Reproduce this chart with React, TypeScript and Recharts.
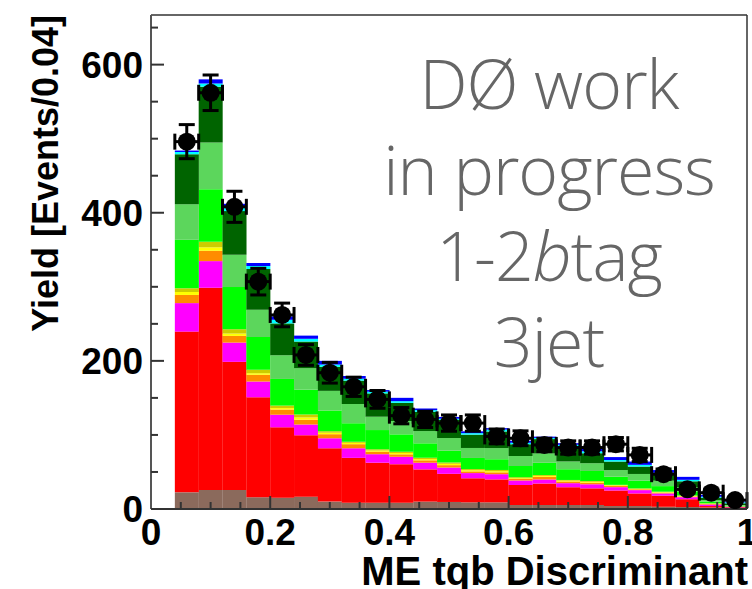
import { Bar, ComposedChart, ErrorBar, ReferenceLine, Scatter, XAxis, YAxis } from "recharts";

// bin centres of the ME tqb discriminant (bin width 0.04)
const BIN_CENTERS = [
  0.06, 0.1, 0.14, 0.18, 0.22, 0.26, 0.3, 0.34, 0.38, 0.42, 0.46, 0.5,
  0.54, 0.58, 0.62, 0.66, 0.7, 0.74, 0.78, 0.82, 0.86, 0.9, 0.94, 0.98,
];
const HALF_BIN = 0.02;

// stacked backgrounds, bottom to top
const brown = [22.5, 25.7, 25.7, 15.8, 15.3, 16.6, 10, 8.5, 8.5, 8.5, 10, 9.5, 9, 9, 5.4, 5.4, 5.4, 5.4, 4, 4, 3, 2.7, 2, 1];
const red = [217, 273, 173, 135, 95, 83, 72, 60.5, 54, 52, 43.5, 38, 32.5, 31, 27, 29, 24, 22.5, 21, 17, 15, 10.5, 2, 1.3];
const magenta = [38.5, 36, 26, 21.5, 17, 14.5, 13.5, 13, 11.5, 10, 9, 8.5, 7, 7, 6, 5.5, 5.5, 5.5, 4.5, 4.5, 3, 2.8, 2, 0.7];
const orange = [11, 14, 9, 9, 7, 6.5, 5.5, 5.5, 3.5, 3.3, 3.2, 3.2, 2.3, 2.5, 2, 3.5, 2.3, 2.1, 1.7, 1.1, 1, 0.9, 0.8, 0.2];
const yellow = [4, 4.6, 3.2, 2, 2, 3, 2, 1.8, 1.4, 1.8, 1.7, 1.8, 1.5, 1.5, 1.2, 1.3, 1, 1.2, 0.8, 0.6, 0.7, 0.6, 0.4, 0.2];
const olive = [5, 7.4, 5.8, 4.8, 3.3, 4, 2, 1.5, 1.7, 1.7, 1.8, 1.8, 1.6, 1.7, 1.3, 1.2, 1, 1.1, 0.6, 0.6, 0.7, 0.7, 0.5, 0.1];
const green = [65.5, 71, 57, 44, 36, 33.5, 28, 25, 26, 23.5, 19.5, 16, 15, 14.5, 15, 16.5, 14.5, 13.5, 11, 10.5, 7.5, 5.5, 2.3, 1];
const lightGreen = [48, 63, 43.5, 37, 32, 29, 26.5, 26, 18, 18, 16.5, 17, 13.5, 15, 13.5, 12.5, 10.5, 10.5, 9, 9, 7.3, 6, 2, 0.9];
const darkGreen = [67.5, 75.5, 59, 55, 43, 36, 32.5, 31.5, 31.5, 24.5, 26, 24.5, 18, 22.5, 16, 19.5, 20, 13.5, 11.5, 10, 9, 7.7, 3.3, 2.3];
const cyan = [3, 4.3, 6.7, 4, 4.9, 3.7, 3, 2.6, 2.3, 2.3, 2.3, 1.6, 2, 2.5, 2.1, 1.6, 2.5, 2.6, 2, 2.3, 1.7, 2, 1.3, 1.3];
const blue = [2, 5.6, 3.2, 4, 4.5, 4.3, 5, 3.7, 2.2, 4.5, 2.2, 2.4, 2.5, 2, 2.5, 1.7, 2.2, 3.1, 4, 4.5, 3.7, 4, 2.4, 1];

// data points and their errors
const observed = [496, 562, 408, 307, 262, 208, 184, 165, 148, 126, 121, 116, 116, 98, 95.5, 86.5, 83, 83, 87.5, 73, 47, 26.5, 22, 12];
const observedErr = [23, 24, 21, 18, 16, 14, 14, 13, 12, 11, 11, 11, 11, 10, 10, 9, 9, 9, 9, 9, 7, 5, 5, 4];

const X_MAJOR = [0, 0.2, 0.4, 0.6, 0.8, 1];
const X_TICKS = [
  0, 0.05, 0.1, 0.15, 0.2, 0.25, 0.3, 0.35, 0.4, 0.45, 0.5,
  0.55, 0.6, 0.65, 0.7, 0.75, 0.8, 0.85, 0.9, 0.95, 1,
];
const Y_MAJOR = [0, 200, 400, 600];
const Y_TICKS = [0, 50, 100, 150, 200, 250, 300, 350, 400, 450, 500, 550, 600, 650];
const Y_MAX = 667;

const layers = [
  { key: "brown", values: brown, color: "#8b6a5c" },
  { key: "red", values: red, color: "#ff0000" },
  { key: "magenta", values: magenta, color: "#ff00ff" },
  { key: "orange", values: orange, color: "#ff8c00" },
  { key: "yellow", values: yellow, color: "#ffff00" },
  { key: "olive", values: olive, color: "#cccc00" },
  { key: "green", values: green, color: "#00ff00" },
  { key: "lightGreen", values: lightGreen, color: "#5cd65c" },
  { key: "darkGreen", values: darkGreen, color: "#006400" },
  { key: "cyan", values: cyan, color: "#00ffff" },
  { key: "blue", values: blue, color: "#0000ff" },
];

const rows = BIN_CENTERS.map((x, i) => {
  const row: Record<string, number> = {
    x,
    obs: observed[i],
    err: observedErr[i],
    xerr: HALF_BIN,
  };
  layers.forEach((l) => {
    row[l.key] = l.values[i];
  });
  return row;
});

const W = 752;
const H = 589;
const MARGIN = { top: 14, right: 4, left: 0, bottom: 0 };
const Y_AXIS_W = 151;
const X_AXIS_H = 80;
const PLOT_W = W - MARGIN.right - 1 - Y_AXIS_W;
const X_TICK_MARGIN = 10;
const Y_TICK_MARGIN = 8;
const MAJOR_LEN = 13;
const MINOR_LEN = 7;

const FONT = "'Liberation Sans', Arial, Helvetica, sans-serif";
const AXIS_COLOR = "#333";

const isMajor = (v: number, majors: number[]) =>
  majors.some((m) => Math.abs(m - v) < 1e-6);

function XTick(props: any) {
  const { x, y, payload } = props;
  const v = payload.value as number;
  if (!isMajor(v, X_MAJOR)) return <g />;
  return (
    <text
      x={x}
      y={y}
      dy="0.71em"
      textAnchor="middle"
      fontFamily={FONT}
      fontWeight={700}
      fontSize={37}
      fill="#000"
    >
      {String(v)}
    </text>
  );
}

// short inward tick mark at the foot of a vertical reference line
function tickMarkShape(len: number) {
  return (props: any) => {
    const { x1, y1, y2 } = props;
    if (x1 == null || y1 == null || y2 == null) return <g />;
    const bottom = Math.max(y1, y2);
    return (
      <line x1={x1} x2={x1} y1={bottom} y2={bottom - len} stroke={AXIS_COLOR} strokeWidth={2} />
    );
  };
}

function YTick(props: any) {
  const { x, y, payload } = props;
  const v = payload.value as number;
  const major = isMajor(v, Y_MAJOR);
  const axisX = x + Y_TICK_MARGIN;
  return (
    <g>
      <line
        x1={axisX}
        x2={axisX + (major ? MAJOR_LEN : MINOR_LEN)}
        y1={y}
        y2={y}
        stroke={AXIS_COLOR}
        strokeWidth={2}
      />
      {major && (
        <text
          x={x}
          y={y}
          dy="0.355em"
          textAnchor="end"
          fontFamily={FONT}
          fontWeight={700}
          fontSize={37}
          fill="#000"
        >
          {String(v)}
        </text>
      )}
    </g>
  );
}

function YTitle(props: any) {
  const vb = props.viewBox || { x: 0, y: 15 };
  const x = vb.x + 58;
  const y = vb.y;
  return (
    <text
      x={x}
      y={y}
      transform={`rotate(-90 ${x} ${y})`}
      textAnchor="end"
      fontFamily={FONT}
      fontWeight={700}
      fontSize={36}
      fill="#000"
    >
      Yield [Events/0.04]
    </text>
  );
}

function XTitle(props: any) {
  const vb = props.viewBox || { x: Y_AXIS_W, y: H - X_AXIS_H, width: PLOT_W };
  return (
    <text
      x={vb.x + vb.width + 1}
      y={vb.y + 76}
      textAnchor="end"
      fontFamily={FONT}
      fontWeight={700}
      fontSize={40}
      fill="#000"
    >
      ME tqb Discriminant
    </text>
  );
}

function Dot(props: any) {
  const { cx, cy } = props;
  if (cx == null || cy == null) return null;
  return <circle cx={cx} cy={cy} r={9} fill="#000" />;
}

const progressLines = [
  <>DØ work</>,
  <>in progress</>,
  <>
    1-2<i>b</i>tag
  </>,
  <>3jet</>,
];

export default function App() {
  return (
    <div
      style={{
        position: "absolute",
        left: 0,
        top: 0,
        width: W,
        height: H,
        background: "#fff",
        overflow: "hidden",
      }}
    >
      <ComposedChart
        width={W}
        height={H}
        data={rows}
        margin={MARGIN}
        barCategoryGap={0}
        barGap={0}
      >
        <XAxis
          dataKey="x"
          type="number"
          domain={[0, 1]}
          ticks={X_TICKS}
          tick={<XTick />}
          tickLine={false}
          tickSize={0}
          tickMargin={X_TICK_MARGIN}
          height={X_AXIS_H}
          interval={0}
          allowDataOverflow
          axisLine={{ stroke: AXIS_COLOR, strokeWidth: 2 }}
          label={<XTitle />}
        />
        <XAxis
          xAxisId="top"
          orientation="top"
          type="number"
          domain={[0, 1]}
          height={1}
          tick={false}
          tickLine={false}
          axisLine={{ stroke: AXIS_COLOR, strokeWidth: 1.5 }}
        />
        <YAxis
          type="number"
          domain={[0, Y_MAX]}
          ticks={Y_TICKS}
          tick={<YTick />}
          tickLine={false}
          tickSize={0}
          tickMargin={Y_TICK_MARGIN}
          width={Y_AXIS_W}
          interval={0}
          allowDataOverflow
          axisLine={{ stroke: "#555", strokeWidth: 2 }}
          label={<YTitle />}
        />
        <YAxis
          yAxisId="right"
          orientation="right"
          type="number"
          domain={[0, Y_MAX]}
          width={1}
          tick={false}
          tickLine={false}
          axisLine={{ stroke: AXIS_COLOR, strokeWidth: 1.5 }}
        />
        {layers.map((l) => (
          <Bar
            key={l.key}
            dataKey={l.key}
            stackId="bkg"
            fill={l.color}
            isAnimationActive={false}
          />
        ))}
        {X_TICKS.map((v) => (
          <ReferenceLine
            key={`xt-${v}`}
            x={v}
            shape={tickMarkShape(isMajor(v, X_MAJOR) ? MAJOR_LEN : MINOR_LEN)}
          />
        ))}
        <Scatter dataKey="obs" shape={<Dot />} isAnimationActive={false}>
          <ErrorBar dataKey="err" direction="y" width={8} strokeWidth={3} stroke="#000" />
          <ErrorBar dataKey="xerr" direction="x" width={8} strokeWidth={3} stroke="#000" />
        </Scatter>
      </ComposedChart>
      <div
        style={{
          position: "absolute",
          left: 349,
          top: 40,
          width: 400,
          textAlign: "center",
          fontFamily: "'Open Sans', 'Noto Sans', sans-serif",
          fontWeight: 300,
          fontSize: 68,
          letterSpacing: "-1px",
          lineHeight: "86px",
          color: "#666",
          whiteSpace: "nowrap",
        }}
      >
        {progressLines.map((line, i) => (
          <div key={i}>{line}</div>
        ))}
      </div>
    </div>
  );
}
